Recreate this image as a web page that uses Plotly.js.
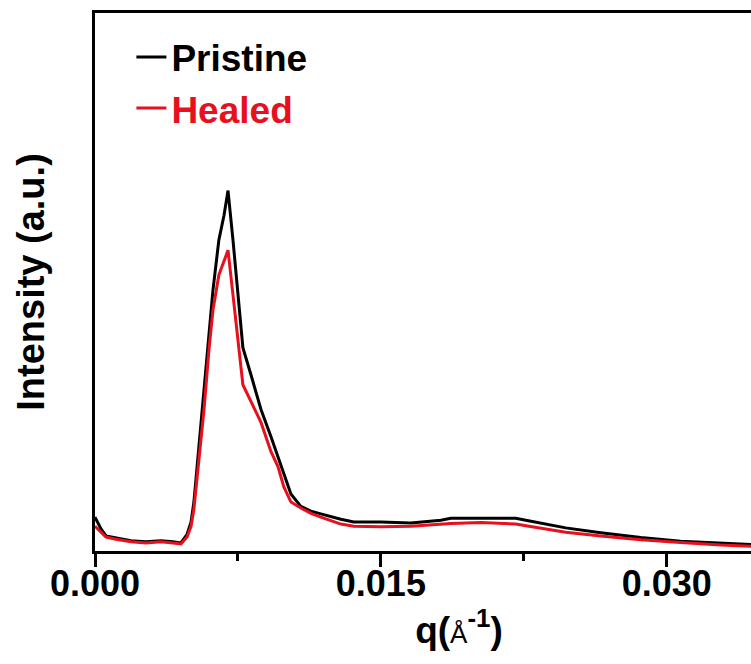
<!DOCTYPE html>
<html>
<head>
<meta charset="utf-8">
<script src="https://cdn.plot.ly/plotly-3.0.1.min.js"></script>
<style>
  html, body { margin: 0; padding: 0; background: #ffffff; }
  #wrap { width: 751px; height: 664px; overflow: hidden; position: relative; }
  #chart { width: 832px; height: 664px; }
</style>
</head>
<body>
<div id="wrap"><div id="chart"></div></div>
<script>
// q values (Å^-1)
const qValues = [
  0, 0.000157, 0.000315, 0.000577, 0.00110, 0.00189, 0.00267, 0.00346, 0.00409, 0.00451,
  0.00483, 0.00504, 0.00519, 0.00545, 0.00572, 0.00598, 0.00619, 0.00650, 0.00677, 0.00698,
  0.00724, 0.00750, 0.00776, 0.00818, 0.00871, 0.00923, 0.00960, 0.00991, 0.01028, 0.01080,
  0.01133, 0.01185, 0.01290, 0.01358, 0.01500, 0.01657, 0.01815, 0.01867, 0.02025, 0.02208,
  0.02261, 0.02339, 0.02470, 0.02654, 0.02864, 0.03073, 0.03283, 0.03493, 0.03703
];
// Intensity (a.u.)
const pristine = [
  6.3, 5.2, 4.1, 2.8, 2.4, 1.9, 1.7, 1.9, 1.7, 1.5,
  3.1, 5.4, 9.1, 18.9, 30.0, 40.2, 48.5, 57.8, 62.4, 67.0,
  57.8, 47.6, 37.8, 32.8, 26.3, 21.3, 17.6, 14.1, 10.6, 8.3,
  7.4, 6.9, 5.9, 5.4, 5.4, 5.2, 5.7, 6.1, 6.1, 6.1,
  5.7, 5.2, 4.3, 3.4, 2.5, 1.8, 1.4, 1.1, 0.9
];
const healed = [
  4.6, 4.1, 3.5, 2.6, 2.2, 1.7, 1.5, 1.7, 1.5, 1.3,
  2.6, 4.6, 7.8, 17.0, 26.3, 37.4, 44.8, 51.3, 53.7, 55.9,
  47.6, 39.3, 30.9, 27.8, 23.9, 18.5, 15.7, 11.9, 9.1, 8.0,
  7.0, 6.3, 5.0, 4.6, 4.5, 4.6, 5.0, 5.1, 5.3, 5.0,
  4.7, 4.3, 3.5, 2.8, 2.1, 1.6, 1.1, 0.8, 0.6
];
const seriesNames = ['Pristine', 'Healed'];
const tickVals = [0, 0.015, 0.030];
const tickText = ['0.000', '0.015', '0.030'];

const RED = '#e8101c';
const FONT = 'Liberation Sans, Arial, Helvetica, sans-serif';

const traces = [
  {
    x: qValues, y: pristine, type: 'scatter', mode: 'lines',
    name: seriesNames[0],
    line: { color: '#000000', width: 3 }
  },
  {
    x: qValues, y: healed, type: 'scatter', mode: 'lines',
    name: '<span style="color:' + RED + '">' + seriesNames[1] + '</span>',
    line: { color: RED, width: 3 }
  }
];

const layout = {
  width: 832, height: 664, autosize: false,
  margin: { l: 95, r: 9, t: 13, b: 113 },
  paper_bgcolor: '#ffffff', plot_bgcolor: '#ffffff',
  font: { family: FONT, size: 36, color: '#000000', weight: 'bold' },
  showlegend: true,
  legend: {
    x: 0.05, y: 0.975, xanchor: 'left', yanchor: 'top',
    bgcolor: 'rgba(0,0,0,0)', borderwidth: 0,
    font: { family: FONT, size: 37, color: '#000000', weight: 'bold' }
  },
  xaxis: {
    range: [0, 0.0382],
    tickvals: tickVals, ticktext: tickText,
    ticks: 'outside', ticklen: 13, tickwidth: 3, tickcolor: '#000000',
    ticklabelstandoff: -14,
    minor: { dtick: 0.0075, tick0: 0, ticks: 'outside', ticklen: 7, tickwidth: 3, tickcolor: '#000000' },
    showline: true, linewidth: 3, linecolor: '#000000', mirror: true,
    showgrid: false, zeroline: false,
    tickfont: { family: FONT, size: 36, color: '#000000', weight: 'bold' },
    title: {
      text: 'q(<span style="font-weight:normal;font-size:26px">Å</span><sup>-1</sup>)',
      font: { family: FONT, size: 37, color: '#000000', weight: 'bold' },
      standoff: 6
    }
  },
  yaxis: {
    range: [0, 100],
    showticklabels: false, ticks: '',
    showline: true, linewidth: 3, linecolor: '#000000',
    showgrid: false, zeroline: false,
    title: {
      text: 'Intensity (a.u.)',
      font: { family: FONT, size: 38, color: '#000000', weight: 'bold' },
      standoff: 36
    }
  }
};

Plotly.newPlot('chart', traces, layout, { staticPlot: true, displayModeBar: false });
</script>
</body>
</html>
